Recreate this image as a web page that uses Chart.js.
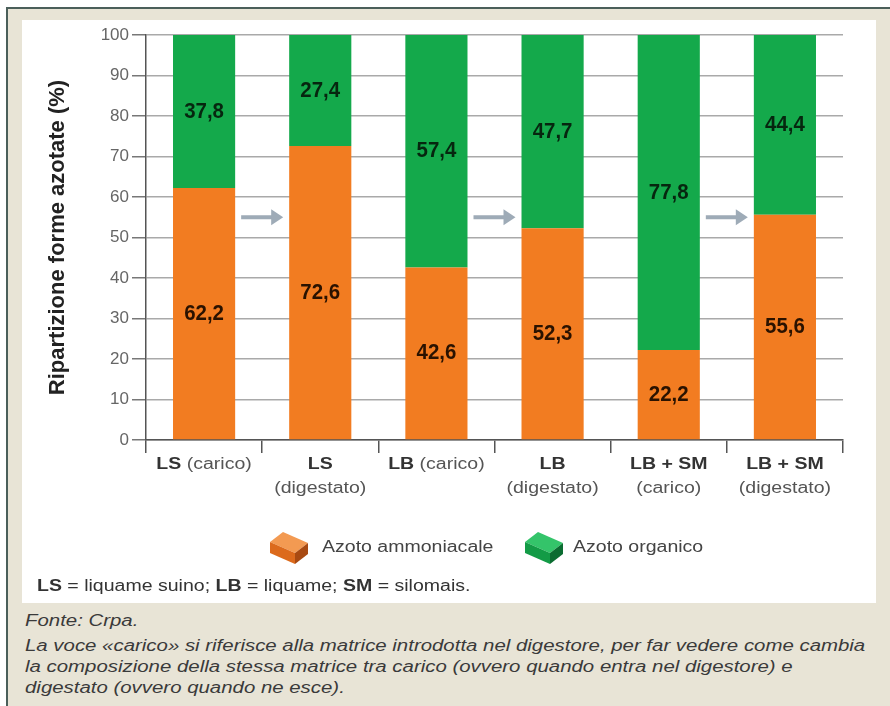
<!DOCTYPE html>
<html lang="it">
<head>
<meta charset="utf-8">
<title>Ripartizione forme azotate</title>
<script src="https://cdn.jsdelivr.net/npm/chart.js@4/dist/chart.umd.min.js"></script>
<style>
  html, body { margin: 0; padding: 0; background: #ffffff; }
  #page {
    position: relative; width: 890px; height: 706px; overflow: hidden;
    background: #ffffff;
  }
  #frame {
    position: absolute; left: 6px; top: 7px; right: 0; bottom: 0;
    background: #e8e4d6;
    border-top: 2px solid #4b5f5a; border-left: 2px solid #4b5f5a;
  }
  #panel {
    position: absolute; left: 22px; top: 20px; width: 854px; height: 583px;
    background: #ffffff;
  }
  #chart { position: absolute; left: 0; top: 0; }
  #notes {
    position: absolute; left: 25px; top: 610px; width: 670px;
    font-family: "Liberation Sans", Arial, sans-serif; font-style: italic;
    font-size: 16px; line-height: 21px; color: #3a3a3a;
    transform: scaleX(1.275); transform-origin: left top; white-space: nowrap;
  }
  #notes .src { margin-bottom: 4px; }
</style>
</head>
<body>
<div id="page">
  <div id="frame"></div>
  <div id="panel"><canvas id="chart" width="854" height="583"></canvas></div>
  <div id="notes">
    <div class="src">Fonte: Crpa.</div>
    <div>La voce «carico» si riferisce alla matrice introdotta nel digestore, per far vedere come cambia</div>
    <div>la composizione della stessa matrice tra carico (ovvero quando entra nel digestore) e</div>
    <div>digestato (ovvero quando ne esce).</div>
  </div>
</div>
<script>
// Categories: matrix and phase (bold code + description in brackets)
const categories = ['LS (carico)', 'LS (digestato)', 'LB (carico)', 'LB (digestato)', 'LB + SM (carico)', 'LB + SM (digestato)'];
// Whether the bracketed part goes on a second line
const wrapLabel = [false, true, false, true, true, true];

// Share of each nitrogen form (%)
const azotoAmmoniacale = [62.2, 72.6, 42.6, 52.3, 22.2, 55.6];
const azotoOrganico   = [37.8, 27.4, 57.4, 47.7, 77.8, 44.4];

const seriesNames = ['Azoto ammoniacale', 'Azoto organico'];
const yTicks = [0, 10, 20, 30, 40, 50, 60, 70, 80, 90, 100];
const yTitle = 'Ripartizione forme azotate (%)';
const footnoteParts = [['LS', true], [' = liquame suino; ', false], ['LB', true], [' = liquame; ', false], ['SM', true], [' = silomais.', false]];

// Before -> after pairs linked by an arrow
const arrowPairs = [[0, 1], [2, 3], [4, 5]];

const ORANGE = '#f27c21';
const GREEN = '#14a94b';
const FONT = '"Liberation Sans", Arial, sans-serif';
const SX = 1.22; // horizontal stretch applied to the hand-drawn texts

function stretchedText(ctx, parts, cx, y, align) {
  // parts: [text, bold, color]
  let total = 0;
  const widths = parts.map(p => {
    ctx.font = (p[1] ? 'bold ' : '') + '16px ' + FONT;
    const w = ctx.measureText(p[0]).width * SX;
    total += w;
    return w;
  });
  let x = align === 'left' ? cx : cx - total / 2;
  parts.forEach((p, i) => {
    ctx.save();
    ctx.font = (p[1] ? 'bold ' : '') + '16px ' + FONT;
    ctx.fillStyle = p[2];
    ctx.textAlign = 'left';
    ctx.textBaseline = 'middle';
    ctx.translate(x, y);
    ctx.scale(SX, 1);
    ctx.fillText(p[0], 0, 0);
    ctx.restore();
    x += widths[i];
  });
}

function drawBrick(ctx, x, y, top, front, side) {
  ctx.save();
  ctx.translate(x, y);
  ctx.lineJoin = 'round';
  // top face
  ctx.beginPath();
  ctx.moveTo(0, 12); ctx.lineTo(13, 2); ctx.lineTo(38, 13); ctx.lineTo(25, 23); ctx.closePath();
  ctx.fillStyle = top; ctx.fill();
  // front face
  ctx.beginPath();
  ctx.moveTo(0, 12); ctx.lineTo(25, 23); ctx.lineTo(25, 34); ctx.lineTo(0, 23); ctx.closePath();
  ctx.fillStyle = front; ctx.fill();
  // side face
  ctx.beginPath();
  ctx.moveTo(25, 23); ctx.lineTo(38, 13); ctx.lineTo(38, 24); ctx.lineTo(25, 34); ctx.closePath();
  ctx.fillStyle = side; ctx.fill();
  ctx.restore();
}

const decorations = {
  id: 'decorations',
  afterDatasetsDraw(chart) {
    const ctx = chart.ctx;
    const y = chart.scales.y;
    const metaA = chart.getDatasetMeta(0);
    const metaB = chart.getDatasetMeta(1);

    // arrows between the loaded and digested matrix
    const arrowY = y.getPixelForValue(55);
    ctx.save();
    ctx.fillStyle = '#9eabb7';
    arrowPairs.forEach(([a, b]) => {
      const barA = metaA.data[a], barB = metaB.data[b];
      const x0 = barA.x + barA.width / 2 + 6;
      const x1 = barB.x - barB.width / 2 - 6;
      ctx.fillRect(x0, arrowY - 2, (x1 - 10) - x0, 4);
      ctx.beginPath();
      ctx.moveTo(x1, arrowY);
      ctx.lineTo(x1 - 12, arrowY - 8);
      ctx.lineTo(x1 - 12, arrowY + 8);
      ctx.closePath();
      ctx.fill();
    });
    ctx.restore();

    // value labels centred in each segment
    [[metaA, azotoAmmoniacale, '#2a1200'], [metaB, azotoOrganico, '#06260f']].forEach(([meta, values, color]) => {
      meta.data.forEach((bar, i) => {
        const cy = (bar.y + bar.base) / 2;
        ctx.save();
        ctx.font = 'bold 22px ' + FONT;
        ctx.fillStyle = color;
        ctx.textAlign = 'center';
        ctx.textBaseline = 'middle';
        ctx.translate(bar.x, cy);
        ctx.scale(0.93, 1);
        ctx.fillText(values[i].toFixed(1).replace('.', ','), 0, 0);
        ctx.restore();
      });
    });
  },
  afterDraw(chart) {
    const ctx = chart.ctx;
    const x = chart.scales.x;
    const base = chart.chartArea.bottom;

    // category labels: bold code, bracketed phase
    categories.forEach((label, i) => {
      const cx = x.getPixelForValue(i);
      const cut = label.indexOf(' (');
      const code = label.slice(0, cut);
      const phase = label.slice(cut + 1);
      if (wrapLabel[i]) {
        stretchedText(ctx, [[code, true, '#333333']], cx, base + 25);
        stretchedText(ctx, [[phase, false, '#555555']], cx, base + 49);
      } else {
        stretchedText(ctx, [[code + ' ', true, '#333333'], [phase, false, '#555555']], cx, base + 25);
      }
    });

    // legend
    const ly = base + 108;
    drawBrick(ctx, 248, ly - 18, '#f39a52', '#dc6a1c', '#a84a12');
    stretchedText(ctx, [[seriesNames[0], false, '#444444']], 300, ly, 'left');
    drawBrick(ctx, 503, ly - 18, '#34c46a', '#139b46', '#0b6c31');
    stretchedText(ctx, [[seriesNames[1], false, '#444444']], 551, ly, 'left');

    // abbreviations
    stretchedText(ctx, footnoteParts.map(p => [p[0], p[1], '#333333']), 15, base + 147, 'left');
  }
};

new Chart(document.getElementById('chart'), {
  type: 'bar',
  data: {
    labels: categories,
    datasets: [
      { label: seriesNames[0], data: azotoAmmoniacale, backgroundColor: ORANGE, borderWidth: 0 },
      { label: seriesNames[1], data: azotoOrganico, backgroundColor: GREEN, borderWidth: 0 }
    ]
  },
  options: {
    responsive: false,
    animation: false,
    events: [],
    layout: { padding: { top: 15, right: 33, bottom: 0, left: 0 } },
    datasets: { bar: { categoryPercentage: 1, barPercentage: 0.535 } },
    plugins: { legend: { display: false }, tooltip: { enabled: false } },
    scales: {
      x: {
        stacked: true,
        grid: { display: true, drawOnChartArea: false, drawTicks: true, tickLength: 13, color: '#555555', lineWidth: 1.5 },
        border: { display: true, color: '#555555', width: 1.5 },
        ticks: { display: false },
        afterFit(scale) { scale.height = 163; }
      },
      y: {
        stacked: true,
        min: 0, max: 100,
        afterBuildTicks(scale) { scale.ticks = yTicks.map(v => ({ value: v })); },
        ticks: { color: '#666666', font: { family: FONT, size: 17 }, padding: 3 },
        grid: { color: '#a9a9a9', lineWidth: 1.5, tickLength: 14, tickColor: '#777777' },
        border: { display: true, color: '#555555', width: 1.5 },
        title: {
          display: true, text: yTitle, color: '#222222',
          font: { family: FONT, size: 22, weight: 'bold' },
          padding: { top: 23, bottom: 0 }
        },
        afterFit(scale) { scale.width = 124; }
      }
    }
  },
  plugins: [decorations]
});
</script>
</body>
</html>
